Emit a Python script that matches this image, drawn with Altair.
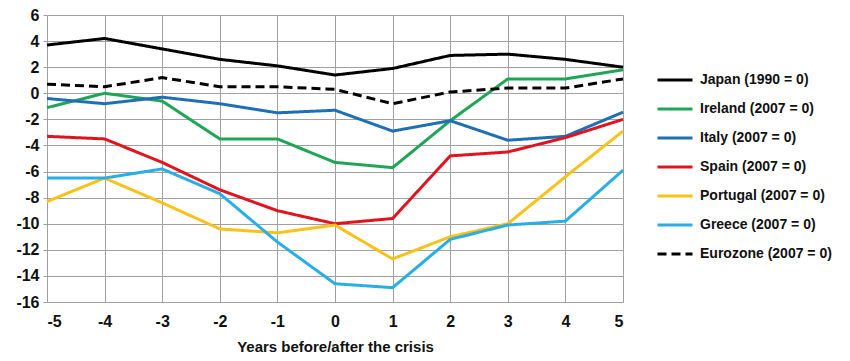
import altair as alt
import pandas as pd

years = [-5, -4, -3, -2, -1, 0, 1, 2, 3, 4, 5]
series_names = [
    "Japan (1990 = 0)",
    "Ireland (2007 = 0)",
    "Italy (2007 = 0)",
    "Spain (2007 = 0)",
    "Portugal (2007 = 0)",
    "Greece (2007 = 0)",
    "Eurozone (2007 = 0)",
]
japan = [3.7, 4.2, 3.4, 2.6, 2.1, 1.4, 1.9, 2.9, 3.0, 2.6, 2.0]
ireland = [-1.1, 0.0, -0.6, -3.5, -3.5, -5.3, -5.7, -2.1, 1.1, 1.1, 1.8]
italy = [-0.4, -0.8, -0.3, -0.8, -1.5, -1.3, -2.9, -2.1, -3.6, -3.3, -1.45]
spain = [-3.3, -3.5, -5.3, -7.4, -9.0, -10.0, -9.6, -4.8, -4.5, -3.4, -2.0]
portugal = [-8.3, -6.5, -8.4, -10.4, -10.7, -10.1, -12.7, -11.0, -10.0, -6.4, -2.9]
greece = [-6.5, -6.5, -5.8, -7.7, -11.4, -14.6, -14.9, -11.2, -10.1, -9.8, -5.9]
eurozone = [0.7, 0.5, 1.2, 0.5, 0.5, 0.3, -0.8, 0.1, 0.4, 0.4, 1.1]

all_values = [japan, ireland, italy, spain, portugal, greece, eurozone]
colors = ["#000000", "#1ea555", "#1f6fb5", "#e0141e", "#f8c21a", "#28aee4", "#000000"]
dashes = [[1, 0]] * 6 + [[9, 5]]
y_ticks = list(range(-16, 7, 2))

rows = []
for name, vals in zip(series_names, all_values):
    for yr, v in zip(years, vals):
        rows.append({"year": yr, "value": v, "series": name})
df = pd.DataFrame(rows)

font = "Liberation Sans"

legend_cfg = dict(
    title=None,
    orient="none",
    legendX=609,
    legendY=46,
    symbolType="stroke",
    symbolSize=1225,
    symbolStrokeWidth=3,
    labelFont=font,
    labelFontSize=14,
    labelFontWeight="bold",
    labelColor="#111111",
    labelOffset=6,
    rowPadding=3,
)

chart = alt.Chart(df).mark_line(strokeWidth=3).encode(
    x=alt.X(
        "year:Q",
        scale=alt.Scale(domain=[-5, 5], nice=False, zero=False),
        axis=alt.Axis(
            values=years,
            labelExpr="toString(datum.value)",
            title="Years before/after the crisis",
            titleFont=font,
            titleFontSize=15,
            titleFontWeight="bold",
            titleColor="#111111",
            titlePadding=10,
            labelFont=font,
            labelFontSize=16,
            labelFontWeight="bold",
            labelColor="#111111",
            labelPadding=11,
            grid=True,
            gridColor="#a0a0a0",
            gridWidth=1,
            domain=False,
            ticks=False,
        ),
    ),
    y=alt.Y(
        "value:Q",
        scale=alt.Scale(domain=[-16, 6], nice=False, zero=False),
        axis=alt.Axis(
            values=y_ticks,
            labelExpr="toString(datum.value)",
            title=None,
            labelFont=font,
            labelFontSize=16,
            labelFontWeight="bold",
            labelColor="#111111",
            labelPadding=4,
            grid=True,
            gridColor="#a0a0a0",
            gridWidth=1,
            domain=False,
            ticks=True,
            tickSize=4,
            tickColor="#a0a0a0",
        ),
    ),
    color=alt.Color(
        "series:N",
        scale=alt.Scale(domain=series_names, range=colors),
        sort=series_names,
        legend=alt.Legend(**legend_cfg),
    ),
    strokeDash=alt.StrokeDash(
        "series:N",
        scale=alt.Scale(domain=series_names, range=dashes),
        sort=series_names,
        legend=alt.Legend(**legend_cfg),
    ),
).properties(
    width=576,
    height=287,
    autosize=alt.AutoSizeParams(type="none"),
    padding={"left": 39, "top": 7, "right": 219, "bottom": 51},
).configure_view(stroke=None).configure(background="white")

chart.save("out.html", embed_options={"renderer": "svg", "actions": False})
